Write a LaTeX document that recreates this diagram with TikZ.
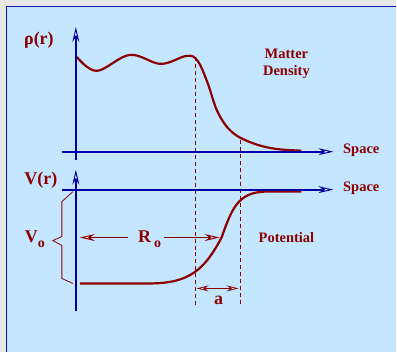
\documentclass[tikz,border=0pt]{standalone}
\usepackage{fontspec}
\setmainfont{Liberation Serif}
\usetikzlibrary{arrows.meta}
\definecolor{bgout}{RGB}{232,232,232}
\definecolor{panel}{RGB}{196,230,255}
\definecolor{frameblue}{RGB}{20,20,170}
\definecolor{axisblue}{RGB}{0,0,160}
\definecolor{dred}{RGB}{140,0,0}
\begin{document}
\begin{tikzpicture}[x=1pt,y=-1pt,
  axisline/.style={axisblue, line width=1.8pt, -{Stealth[length=15pt,width=7pt,inset=5pt,fill=white,line width=1pt]}},
  redarrow/.style={dred, line width=1.8pt, -{Stealth[length=15pt,width=7pt,inset=5pt,fill=white,line width=1pt]}},
  curve/.style={dred, line width=2.2pt},
  guide/.style={dred, line width=1pt, dash pattern=on 4pt off 3pt},
  lab/.style={dred, font=\fontsize{14.5}{17}\selectfont\bfseries, inner sep=0pt},
  biglab/.style={dred, font=\fontsize{18}{20}\selectfont\bfseries, inner sep=0pt}]
\fill[bgout] (0,0) rectangle (397,353);
\fill[panel] (6,6) rectangle (397,353);
\draw[frameblue, line width=1.6pt] (6.5,353) -- (6.5,6.5) -- (397,6.5);
\useasboundingbox (0,0) rectangle (397,353);

% upper axes
\coordinate (uy0) at (76,160); \coordinate (uy1) at (76,27);
\coordinate (ux0) at (62,152); \coordinate (ux1) at (334,152);
% lower axes
\coordinate (ly0) at (76,312); \coordinate (ly1) at (76,170);
\coordinate (lx0) at (62,190); \coordinate (lx1) at (334,190);
% dashed guides
\coordinate (d1t) at (195.5,57); \coordinate (d1b) at (195.5,308);
\coordinate (d2t) at (240.5,140); \coordinate (d2b) at (240.5,306);

\draw[guide] (d1t) -- (d1b);
\draw[guide] (d2t) -- (d2b);

% density curve
\draw[curve] plot[smooth, tension=0.6] coordinates {(77,57) (97,71) (130,55) (161,64) (187,56) (198,61) (208,83) (218,112) (232,132) (252,143) (275,149) (302,151)};

% potential curve
\draw[curve] (80,284) -- (150,284) .. controls (190,284) and (205,270) .. (222,238) .. controls (232,210) and (238,193) .. (265,192) -- (302,192);

\draw[axisline] (uy0) -- (uy1);
\draw[axisline] (ux0) -- (ux1);
\draw[axisline] (ly0) -- (ly1);
\draw[axisline] (lx0) -- (lx1);

% labels
\node[biglab] (rho) at (39,40) {ρ(r)};
\node[biglab] (vr) at (41,181) {V(r)};
\node[lab, align=center] (matter) at (287,64) {Matter\\Density};
\node[lab] (space1) at (362,151) {Space};
\node[lab] (space2) at (362,189) {Space};
\node[lab] (pot) at (287,238) {Potential};
\node[biglab] (vo) at (35,240) {V\raisebox{-5pt}{\fontsize{14}{15}\selectfont o}};
\node[biglab] (ro) at (150,240) {R\,\raisebox{-5pt}{\fontsize{14}{15}\selectfont o}};
\node[biglab] (alab) at (219,301) {a};

% R_o arrows
\coordinate (rl0) at (128,238); \coordinate (rl1) at (80,238);
\coordinate (rr0) at (164,238); \coordinate (rr1) at (220,238);
\draw[redarrow] (rl0) -- (rl1);
\draw[redarrow] (rr0) -- (rr1);

% a arrow
\coordinate (a1) at (197,289); \coordinate (a2) at (239,289);
\draw[dred, line width=1.2pt, {Stealth[length=12pt,width=6pt,inset=4pt,fill=white,line width=0.8pt]}-{Stealth[length=12pt,width=6pt,inset=4pt,fill=white,line width=0.8pt]}] (a1) -- (a2);

% brace
\draw[dred, line width=0.8pt] (73,192) -- (62,202) -- (62,237) -- (53,241) -- (62,246) -- (62,279) -- (73,284);
\end{tikzpicture}
\end{document}
